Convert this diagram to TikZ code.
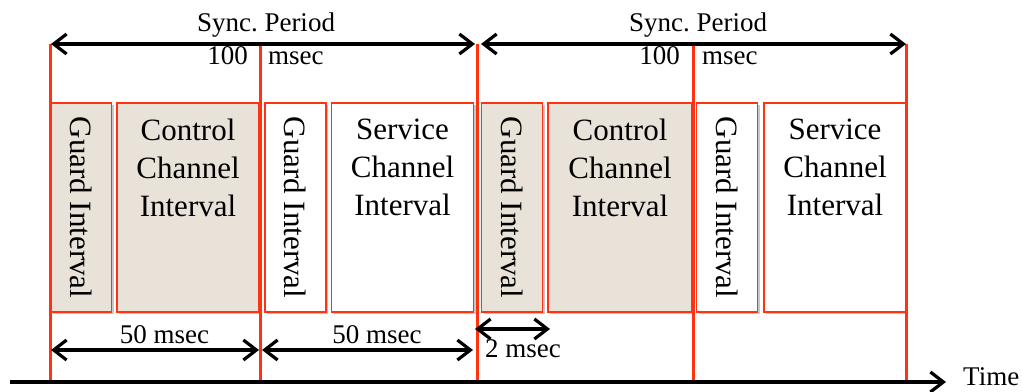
\documentclass[tikz,border=0pt]{standalone}
\usepackage{fontspec}
\setmainfont{Liberation Serif}
\usetikzlibrary{arrows.meta,shadows}
\frenchspacing
\definecolor{redline}{HTML}{FF3311}
\definecolor{beige}{HTML}{E8E2D8}
\tikzset{
  >={Straight Barb[length=13pt,width=20pt,line width=3.2pt]},
  box/.style={draw=redline, line width=1.8pt, minimum height=209pt, inner sep=0pt,
    drop shadow={shadow xshift=2pt,shadow yshift=-2pt,opacity=0.22,fill=black}},
  guard/.style={box, minimum width=61pt, font=\fontsize{31}{38}\selectfont},
  chan/.style={box, minimum width=142pt},
  chantext/.style={anchor=north, align=center, inner sep=0pt, yshift=-17pt, font=\fontsize{31}{38}\selectfont},
  sep/.style={draw=redline, line width=3pt},
  dim/.style={line width=3.2pt, <->},
  lbl/.style={font=\fontsize{27}{30}\selectfont, inner sep=0pt}
}
\begin{document}
\begin{tikzpicture}[x=1pt,y=-1pt]
\useasboundingbox (0,0) rectangle (1022,391);
% boxes
\node[guard, fill=beige] (g1) at (81,207.5) {\rotatebox{-90}{Guard Interval}};
\node[chan, fill=beige] (c1) at (188,207.5) {};
\node[chantext] (c1t) at (c1.north) {Control\\Channel\\Interval};
\node[guard, fill=white] (g2) at (295.5,207.5) {\rotatebox{-90}{Guard Interval}};
\node[chan, fill=white] (s1) at (402.5,207.5) {};
\node[chantext] (s1t) at (s1.north) {Service\\Channel\\Interval};
\node[guard, fill=beige] (g3) at (512,207.5) {\rotatebox{-90}{Guard Interval}};
\node[chan, fill=beige, minimum width=144pt] (c2) at (620,207.5) {};
\node[chantext] (c2t) at (c2.north) {Control\\Channel\\Interval};
\node[guard, fill=white] (g4) at (727,207.5) {\rotatebox{-90}{Guard Interval}};
\node[chan, fill=white] (s2) at (835,207.5) {};
\node[chantext] (s2t) at (s2.north) {Service\\Channel\\Interval};
% separator lines
\foreach \i/\x in {0/50,1/260,2/477,3/693,4/906}{
  \coordinate (t\i) at (\x,44);
  \coordinate (b\i) at (\x,384);
  \draw[sep] (t\i) -- (b\i);
}
% time axis
\coordinate (ax0) at (10,382);
\coordinate (ax1) at (946,382);
\draw[line width=3.2pt, ->] (ax0) -- (ax1);
\node[lbl, anchor=base west] (time) at (963,385) {Time};
% sync period arrows
\coordinate (sp1a) at (51,44);
\coordinate (sp1b) at (475,44);
\coordinate (sp2a) at (481,44);
\coordinate (sp2b) at (906,44);
\draw[dim] (sp1a) -- (sp1b);
\draw[dim] (sp2a) -- (sp2b);
\node[lbl] (sync1) at (266,25) {Sync. Period};
\node[lbl, anchor=base east] (h1) at (248,64) {100};
\node[lbl, anchor=base west] (m1) at (268,64) {msec};
\node[lbl] (sync2) at (698,25) {Sync. Period};
\node[lbl, anchor=base east] (h2) at (680,64) {100};
\node[lbl, anchor=base west] (m2) at (702,64) {msec};
% 50 msec arrows
\coordinate (f1a) at (51,350);
\coordinate (f1b) at (259,350);
\coordinate (f2a) at (262,350);
\coordinate (f2b) at (473,350);
\draw[dim] (f1a) -- (f1b);
\draw[dim] (f2a) -- (f2b);
\node[lbl, anchor=base] (fifty1) at (164.5,343) {50 msec};
\node[lbl, anchor=base] (fifty2) at (377,343) {50 msec};
% 2 msec
\coordinate (tw1) at (475,329);
\coordinate (tw2) at (550,329);
\draw[dim] (tw1) -- (tw2);
\node[lbl, anchor=base west] (two) at (485,357) {2 msec};
\end{tikzpicture}
\end{document}
